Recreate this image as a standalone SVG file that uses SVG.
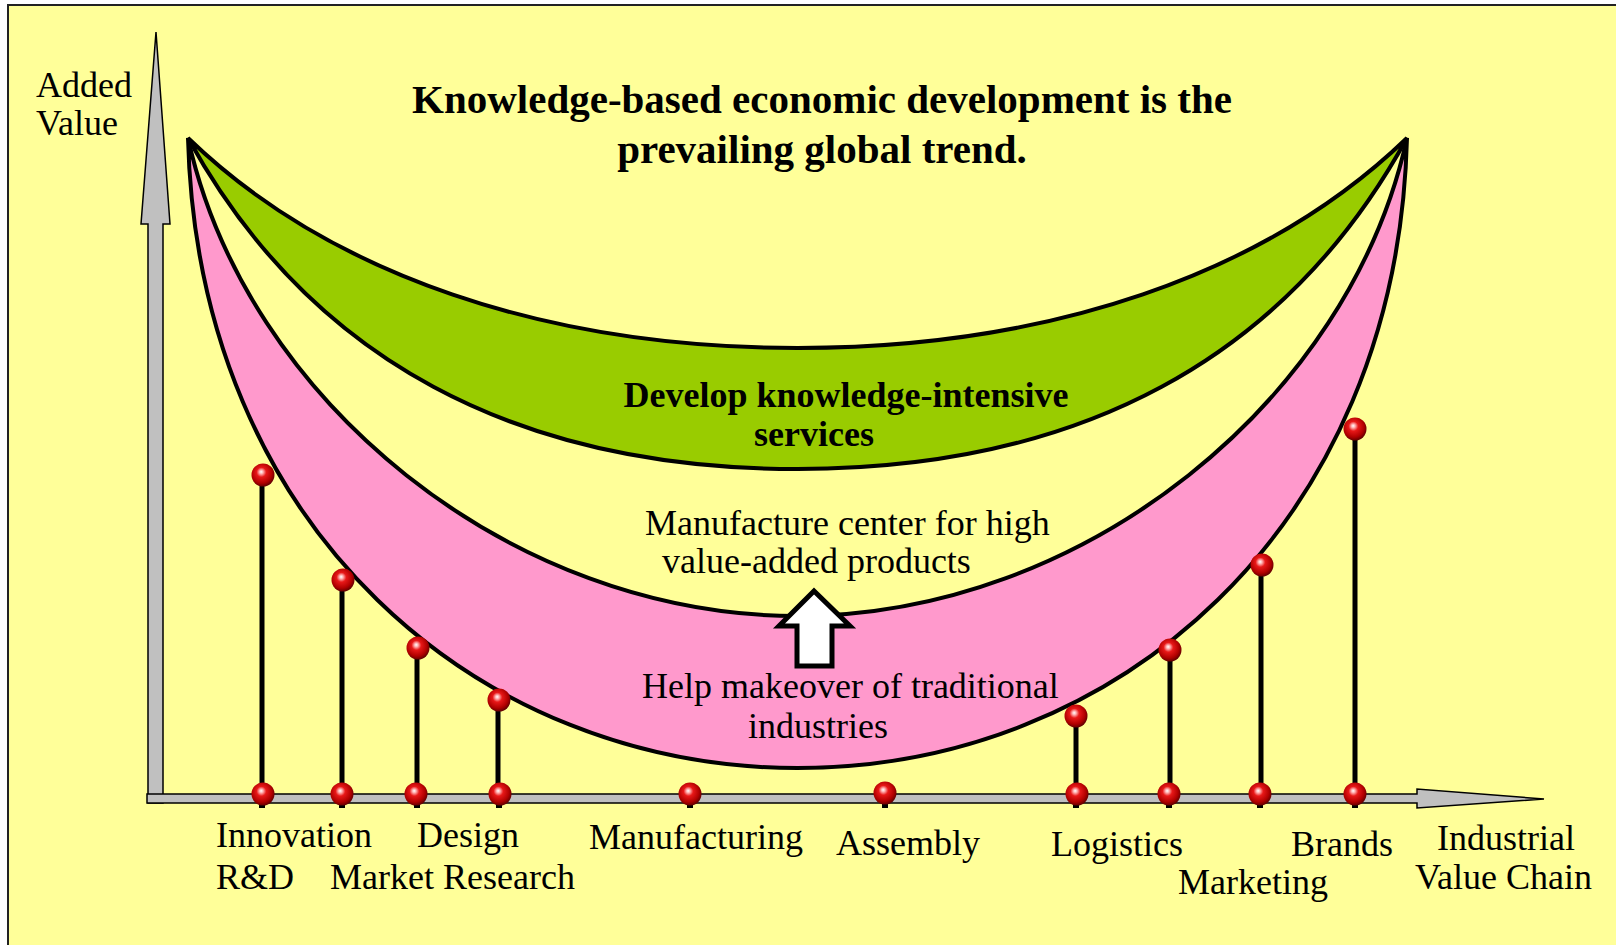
<svg xmlns="http://www.w3.org/2000/svg" width="1616" height="945" viewBox="0 0 1616 945">
  <defs>
    <radialGradient id="ballGrad" cx="45%" cy="42%" r="60%" fx="42%" fy="36%">
      <stop offset="0%" stop-color="#ffffff"/>
      <stop offset="14%" stop-color="#ffb0b0"/>
      <stop offset="35%" stop-color="#e81818"/>
      <stop offset="75%" stop-color="#b00000"/>
      <stop offset="100%" stop-color="#5a0000"/>
    </radialGradient>
    <style>
      .band { stroke: #000; stroke-width: 4; stroke-linejoin: miter; stroke-miterlimit: 4; }
      .axis { fill: #c0c0c0; stroke: #000; stroke-width: 1.5; stroke-linejoin: miter; }
      .stem { stroke: #000; stroke-width: 5; }
      .ball { fill: url(#ballGrad); }
      .pin { fill: #000; }
      .lbl { font-family: "Liberation Serif", "Times New Roman", serif; font-size: 36px; fill: #000; }
      .bold { font-family: "Liberation Serif", "Times New Roman", serif; font-weight: bold; fill: #000; }
    </style>
  </defs>

  <rect x="0" y="0" width="1616" height="945" fill="#ffffff"/>
  <rect x="8" y="5" width="1630" height="960" fill="#ffff99" stroke="#222" stroke-width="2"/>

  <g id="knowledge-services-band">
    <path class="band" fill="#99cc00" d="M188 138 C310 360 517 469 797.5 469 C1078 469 1285 360 1407 138 C1265 275 1048 348 797.5 348 C547 348 330 275 188 138 Z"/>
  </g>
  <g id="traditional-industries-band">
    <path class="band" fill="#ff99cc" d="M188 138 C198 530 480 768 797.5 768 C1115 768 1397 530 1407 138 C1350 400 1085 616 797.5 616 C510 616 245 400 188 138 Z"/>
  </g>

  <g id="y-axis">
    <polygon class="axis" points="156,32 170,224 163,224 163,803 148,803 148,224 141,224"/>
  </g>
  <g id="x-axis">
    <polygon class="axis" points="147,794 1417,794 1417,789 1544,799 1417,808 1417,803 147,803"/>
  </g>

  <g id="connectors">
    <line class="stem" x1="262" y1="475" x2="262" y2="794"/>
    <line class="stem" x1="342" y1="580" x2="342" y2="794"/>
    <line class="stem" x1="417" y1="648" x2="417" y2="794"/>
    <line class="stem" x1="498" y1="700" x2="498" y2="794"/>
    <line class="stem" x1="1076" y1="715" x2="1076" y2="794"/>
    <line class="stem" x1="1170" y1="650" x2="1170" y2="794"/>
    <line class="stem" x1="1261" y1="565" x2="1261" y2="794"/>
    <line class="stem" x1="1355" y1="429" x2="1355" y2="794"/>
  </g>

  <g id="balls">
    <g id="ball-innovation"><rect class="pin" x="259" y="803" width="6" height="5"/><circle class="ball" cx="263" cy="475" r="11.5"/><circle class="ball" cx="263" cy="794" r="11.5"/></g>
    <g id="ball-market"><rect class="pin" x="339" y="803" width="6" height="5"/><circle class="ball" cx="343" cy="580" r="11.5"/><circle class="ball" cx="342" cy="794" r="11.5"/></g>
    <g id="ball-design"><rect class="pin" x="414" y="803" width="6" height="5"/><circle class="ball" cx="418" cy="648" r="11.5"/><circle class="ball" cx="416" cy="794" r="11.5"/></g>
    <g id="ball-research"><rect class="pin" x="496" y="803" width="6" height="5"/><circle class="ball" cx="499" cy="700" r="11.5"/><circle class="ball" cx="500" cy="794" r="11.5"/></g>
    <g id="ball-manufacturing"><rect class="pin" x="687" y="803" width="6" height="5"/><circle class="ball" cx="690" cy="794" r="11.5"/></g>
    <g id="ball-assembly"><rect class="pin" x="882" y="803" width="6" height="5"/><circle class="ball" cx="885" cy="793" r="11.5"/></g>
    <g id="ball-logistics"><rect class="pin" x="1073" y="803" width="6" height="5"/><circle class="ball" cx="1076" cy="716" r="11.5"/><circle class="ball" cx="1077" cy="794" r="11.5"/></g>
    <g id="ball-marketing2"><rect class="pin" x="1166" y="803" width="6" height="5"/><circle class="ball" cx="1170" cy="650" r="11.5"/><circle class="ball" cx="1169" cy="794" r="11.5"/></g>
    <g id="ball-marketing"><rect class="pin" x="1257" y="803" width="6" height="5"/><circle class="ball" cx="1262" cy="565" r="11.5"/><circle class="ball" cx="1260" cy="794" r="11.5"/></g>
    <g id="ball-brands"><rect class="pin" x="1352" y="803" width="6" height="5"/><circle class="ball" cx="1355" cy="429" r="11.5"/><circle class="ball" cx="1355" cy="794" r="11.5"/></g>
  </g>

  <g id="upgrade-arrow">
    <polygon points="814,591 850,626 832,626 832,666 797,666 797,626 779,626" fill="#ffffff" stroke="#000" stroke-width="5" stroke-linejoin="miter"/>
  </g>

  <g id="title">
    <text class="bold" font-size="41" x="822" y="113" text-anchor="middle">Knowledge-based economic development is the</text>
    <text class="bold" font-size="41" x="822" y="163" text-anchor="middle">prevailing global trend.</text>
  </g>

  <g id="label-services">
    <text class="bold" font-size="36" x="846" y="407" text-anchor="middle">Develop knowledge-intensive</text>
    <text class="bold" font-size="36" x="814" y="446" text-anchor="middle">services</text>
  </g>
  <g id="label-high-value">
    <text class="lbl" x="645" y="535">Manufacture center for high</text>
    <text class="lbl" x="662" y="573">value-added products</text>
  </g>
  <g id="label-traditional">
    <text class="lbl" x="642" y="698">Help makeover of traditional</text>
    <text class="lbl" x="748" y="738">industries</text>
  </g>

  <g id="axis-labels">
    <text class="lbl" x="36" y="97">Added</text>
    <text class="lbl" x="36" y="135">Value</text>
    <text class="lbl" x="1437" y="850">Industrial</text>
    <text class="lbl" x="1415" y="889">Value Chain</text>
  </g>

  <g id="chain-labels">
    <text class="lbl" x="216" y="847">Innovation</text>
    <text class="lbl" x="216" y="889">R&amp;D</text>
    <text class="lbl" x="417" y="847">Design</text>
    <text class="lbl" x="330" y="889">Market Research</text>
    <text class="lbl" x="589" y="849">Manufacturing</text>
    <text class="lbl" x="836" y="855">Assembly</text>
    <text class="lbl" x="1051" y="856">Logistics</text>
    <text class="lbl" x="1291" y="856">Brands</text>
    <text class="lbl" x="1178" y="894">Marketing</text>
  </g>
</svg>
